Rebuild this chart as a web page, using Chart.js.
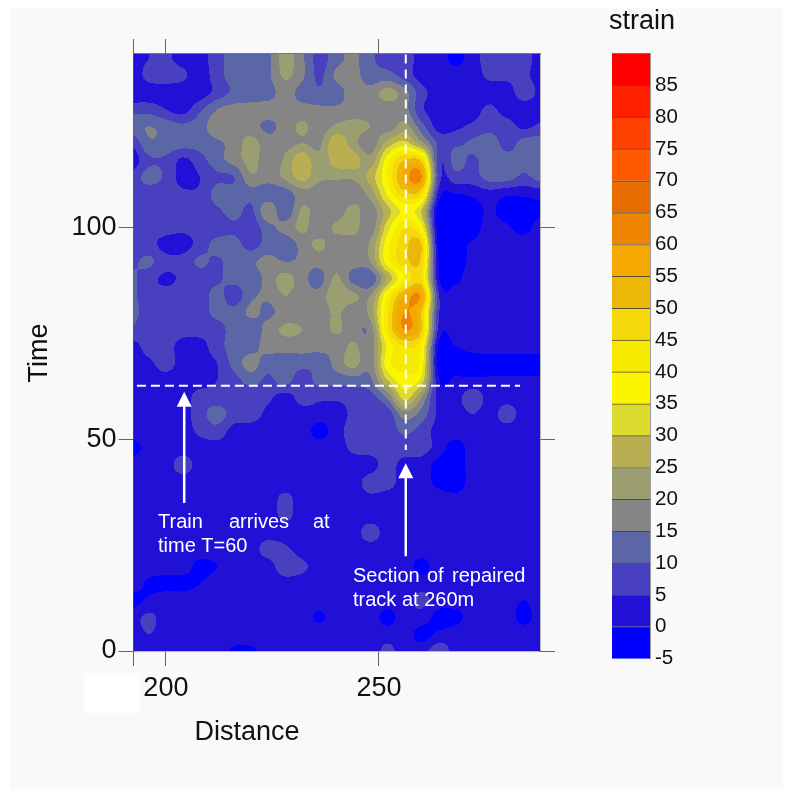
<!DOCTYPE html>
<html>
<head>
<meta charset="utf-8">
<style>
html,body{margin:0;padding:0;background:#fff;width:786px;height:789px;overflow:hidden}
#main{position:absolute;left:0;top:0}
#bar{position:absolute;left:612px;top:36px}
</style>
<script src="https://cdn.jsdelivr.net/npm/chart.js@4/dist/chart.umd.min.js"></script>
</head>
<body>
<canvas id="main" width="786" height="789"></canvas>
<canvas id="bar" width="100" height="640"></canvas>
<script>
// ---- data ----
const xTicks = [200, 250];
const yTicks = [0, 50, 100];
const gridX = [192,196,200,204,208,212,216,220,224,228,232,236,240,244,248,252,256,260,264,268,272,276,280,284,288];
const gridY = [140,136,132,128,124,120,116,112,108,104,100,96,92,88,84,80,76,72,68,64,60,56,52,48,44,40,36,32,28,24,20,16,12,8,4,0];
const strain = [
[2,5,6,3,3,8,12,12,14,22,16,8,13,16,11,8,8,3,3,-2,3,7,7,7,3],
[1,7,7,6,2,8,12,12,14,21,16,9,16,17,12,12,8,3,3,3,3,6,6,6,3],
[1,2,3,2,2,7,11,12,13,17,13,11,13,17,17,22,17,7,3,3,3,3,3,7,4],
[8,8,5,3,9,15,17,17,17,17,17,16,16,17,17,17,17,6,3,3,3,6,3,3,3],
[13,15,13,11,13,18,19,17,14,17,21,17,21,22,20,17,22,12,3,4,6,8,7,4,6],
[6,14,13,12,12,14,17,22,17,18,20,19,29,22,17,27,32,22,9,9,11,13,8,12,13],
[2,9,9,4,8,13,17,22,17,21,29,21,28,28,22,38,50,48,7,12,9,13,12,11,13],
[7,12,9,3,5,9,10,19,17,21,27,21,21,21,27,40,57,60,8,8,8,12,12,9,12],
[7,7,7,6,6,12,12,12,12,12,18,17,17,17,22,36,48,45,3,0,1,3,1,1,2],
[7,7,7,7,7,9,12,9,19,11,21,17,17,22,17,28,36,30,-3,-4,-3,1,-3,-3,-1],
[9,7,7,6,7,7,9,7,13,17,21,17,21,22,17,33,45,38,-3,-4,-3,3,1,-2,3],
[7,7,3,3,7,12,12,8,12,11,17,21,17,17,21,38,48,50,-2,-3,1,3,3,3,3],
[9,11,7,7,11,9,13,14,17,15,16,17,18,17,20,38,48,48,0,-3,2,3,3,3,3],
[11,7,4,6,7,9,12,12,17,22,17,13,21,13,11,26,40,45,1,-1,3,3,3,3,3],
[11,7,7,7,7,12,7,14,16,20,17,17,24,21,20,40,55,58,6,2,3,3,3,3,3],
[12,7,7,7,7,12,12,16,14,17,17,17,21,17,22,44,60,50,6,3,3,3,3,3,3],
[9,7,7,7,7,7,13,12,17,21,20,17,21,17,17,44,60,50,4,3,3,3,3,3,3],
[3,7,7,3,3,8,12,13,17,17,17,17,17,21,17,36,45,40,-1,0,2,3,3,3,3],
[3,4,7,3,3,5,12,17,12,12,12,11,17,22,17,38,42,38,-3,-3,-3,-3,-3,-3,-3],
[3,3,3,3,3,5,8,12,9,12,7,12,12,13,14,30,38,33,1,1,1,1,1,1,1],
[3,3,3,3,7,7,7,7,6,3,7,6,6,7,8,16,32,20,3,3,8,3,3,3,3],
[3,3,3,3,8,12,8,7,4,3,3,3,3,6,7,7,18,13,4,3,5,3,7,3,3],
[3,3,3,3,6,8,3,3,3,3,3,-2,3,7,7,7,11,8,3,3,3,3,3,3,3],
[-2,2,3,3,3,3,3,3,3,3,3,3,3,6,7,7,8,7,3,-3,3,3,3,3,3],
[3,3,3,7,3,3,3,3,3,3,3,3,3,3,3,7,3,3,-2,-4,3,3,3,3,3],
[3,3,3,3,3,3,3,3,3,3,3,3,3,3,7,7,3,3,-2,-4,3,3,3,3,3],
[3,3,3,3,3,3,3,3,3,6,3,3,3,3,4,3,3,3,3,2,3,3,3,3,3],
[3,3,3,3,3,3,3,3,3,6,3,3,3,3,3,3,3,3,3,3,3,3,3,3,3],
[3,3,3,3,3,3,3,3,3,3,3,3,3,3,7,3,3,3,3,3,3,3,3,3,3],
[3,3,3,3,3,3,3,3,7,6,3,3,3,3,3,3,3,3,3,3,3,3,3,3,3],
[3,3,3,3,-2,0,3,3,3,8,6,3,3,3,3,3,3,-2,3,3,3,3,3,3,3],
[3,-1,-2,-2,0,3,3,3,3,3,3,3,3,3,3,3,3,3,3,3,3,3,3,3,3],
[-2,1,3,3,3,3,3,3,3,3,3,3,3,3,3,3,3,6,3,3,3,3,3,0,3],
[3,6,3,3,3,3,3,3,3,3,3,-1,3,3,3,-2,3,3,-2,-2,3,3,3,-2,3],
[3,5,3,3,3,3,3,3,3,3,3,3,3,3,3,3,3,-2,1,3,3,3,3,3,3],
[3,3,3,3,3,3,-1,-1,3,3,3,3,3,3,3,6,3,3,8,3,3,3,3,3,3]
];
const bandLows = [-5,0,5,10,15,20,25,30,35,40,45,50,55,60,65,70,75,80,85];
const bandColors = ['#0000ff','#2111d6','#4840be','#5a66a6','#858585','#9a9e70','#b8ae52','#dcdc30','#fbf500','#f5ea00','#f5d80a','#ecb808','#f5a800','#ee8400','#e86c00','#ff5a00','#ff4000','#ff2000','#ff0000'];
const trainLine = [{x:193.2,y:62.7},{x:283.1,y:62.7}];
const repairLine = [{x:256.3,y:141},{x:256.3,y:47.5}];
const arrows = [{x:204.3,from:35,to:61.3},{x:256.3,from:22.4,to:44.4}];
const notes = [
 {t:'Train',x:158,y:528},{t:'arrives',x:229,y:528},{t:'at',x:313,y:528},
 {t:'time T=60',x:158,y:552},
 {t:'Section',x:353,y:582},{t:'of',x:427,y:582},{t:'repaired',x:452,y:582},
 {t:'track at 260m',x:353,y:606}
];
const FONT = '"Liberation Sans", Arial, sans-serif';

function hexRgb(h){return [parseInt(h.slice(1,3),16),parseInt(h.slice(3,5),16),parseInt(h.slice(5,7),16)];}
const bandRgb = bandColors.map(hexRgb);

function cr(p0,p1,p2,p3,t){
  return 0.5*((2*p1)+(-p0+p2)*t+(2*p0-5*p1+4*p2-p3)*t*t+(-p0+3*p1-3*p2+p3)*t*t*t);
}
function cell(j,i){
  j=Math.max(0,Math.min(gridY.length-1,j)); i=Math.max(0,Math.min(gridX.length-1,i));
  return strain[j][i];
}
function sample(xv,yv){
  const stepX = gridX[1]-gridX[0], stepY = gridY[0]-gridY[1];
  let fx = (xv-gridX[0])/stepX, fy = (gridY[0]-yv)/stepY;
  fx = Math.max(0,Math.min(gridX.length-1.001,fx));
  fy = Math.max(0,Math.min(gridY.length-1.001,fy));
  const i=Math.floor(fx), j=Math.floor(fy), a=fx-i, b=fy-j;
  const r=[-1,0,1,2].map(d=>cr(cell(j+d,i-1),cell(j+d,i),cell(j+d,i+1),cell(j+d,i+2),a));
  return cr(r[0],r[1],r[2],r[3],b);
}

const contourPlugin = {
  id:'contour',
  beforeDatasetsDraw(chart){
    const {ctx,chartArea:ca,scales:{x,y}} = chart;
    const L=Math.floor(ca.left), T=Math.floor(ca.top), W=Math.ceil(ca.right)-L, H=Math.ceil(ca.bottom)-T;
    const off=document.createElement('canvas'); off.width=W; off.height=H;
    const oc=off.getContext('2d'); const img=oc.createImageData(W,H);
    for(let py=0;py<H;py++){
      const yv=y.getValueForPixel(T+py+0.5);
      for(let px=0;px<W;px++){
        const xv=x.getValueForPixel(L+px+0.5);
        const v=sample(xv,yv);
        let k=Math.floor((v+5)/5); k=Math.max(0,Math.min(bandRgb.length-1,k));
        const c=bandRgb[k], o=(py*W+px)*4;
        img.data[o]=c[0];img.data[o+1]=c[1];img.data[o+2]=c[2];img.data[o+3]=255;
      }
    }
    oc.putImageData(img,0,0);
    ctx.save();
    ctx.beginPath();ctx.rect(ca.left,ca.top,ca.width,ca.height);ctx.clip();
    ctx.fillStyle='#2111d6';ctx.fillRect(ca.left,ca.top,ca.width,ca.height);
    ctx.filter='blur(0.7px)';
    ctx.drawImage(off,L,T);
    ctx.filter='none';
    ctx.restore();
  },
  afterDatasetsDraw(chart){
    const {ctx,scales:{x,y}} = chart;
    ctx.save();
    ctx.strokeStyle='#fff';ctx.fillStyle='#fff';
    arrows.forEach(a=>{
      const px=x.getPixelForValue(a.x), p0=y.getPixelForValue(a.from), p1=y.getPixelForValue(a.to);
      ctx.lineWidth=2.5;
      ctx.beginPath();ctx.moveTo(px,p0);ctx.lineTo(px,p1+10);ctx.stroke();
      ctx.beginPath();ctx.moveTo(px,p1);ctx.lineTo(px-7.5,p1+15);ctx.lineTo(px+7.5,p1+15);ctx.closePath();ctx.fill();
    });
    ctx.font='20px '+FONT;ctx.textAlign='left';ctx.textBaseline='alphabetic';
    notes.forEach(n=>ctx.fillText(n.t,n.x,n.y));
    ctx.fillStyle='#111';
    ctx.font='27px '+FONT;ctx.textAlign='center';
    ctx.fillText('Distance',247,740);
    ctx.fillText('strain',642,29);
    ctx.translate(47,353);ctx.rotate(-Math.PI/2);
    ctx.fillText('Time',0,0);
    ctx.restore();
  },
  beforeDraw(chart){
    const ctx=chart.ctx;
    ctx.save();
    ctx.fillStyle='#f9f9f9';ctx.fillRect(10,8,773,781);
    ctx.fillStyle='#ffffff';ctx.fillRect(84,673,56,40);
    ctx.restore();
  }
};

const axisGrid={drawOnChartArea:false,color:'#666',tickLength:15,lineWidth:1};
const axisBorder={color:'#777',width:1.5};
function withEdge(list,edge){return function(s){s.ticks=[edge].concat(list).map(v=>({value:v}));};}
function xAxis(pos,size,show){
  return {type:'linear',position:pos,min:192.4,max:287.8,
    grid:axisGrid,border:axisBorder,
    afterBuildTicks:withEdge(xTicks,192.4),
    afterFit(s){s.height=size;},
    ticks:{display:show,color:'#111',font:{size:27,family:FONT},padding:6,maxRotation:0,autoSkip:false,
      callback(v){return xTicks.includes(v)?String(v):'';}}};
}
function yAxis(pos,size,show){
  return {type:'linear',position:pos,min:0,max:141.1,
    grid:axisGrid,border:axisBorder,
    afterBuildTicks(s){s.ticks=yTicks.map(v=>({value:v}));},
    afterFit(s){s.width=size;},
    ticks:{display:show,color:'#111',font:{size:27,family:FONT},padding:2,autoSkip:false,
      callback(v){return String(v);}}};
}

new Chart(document.getElementById('main'),{
  type:'scatter',
  data:{datasets:[
    {label:'strain grid',xAxisID:'x',yAxisID:'y',pointRadius:0,
     data:gridY.flatMap((yv,j)=>gridX.map((xv,i)=>({x:xv,y:yv,v:strain[j][i]})))},
    {label:'train arrival',xAxisID:'x',yAxisID:'y',showLine:true,pointRadius:0,borderColor:'#fff',borderWidth:2,borderDash:[9,5],data:trainLine},
    {label:'repaired section',xAxisID:'x',yAxisID:'y',showLine:true,pointRadius:0,borderColor:'#fff',borderWidth:2,borderDash:[9,6],data:repairLine}
  ]},
  options:{
    responsive:false,animation:false,
    layout:{padding:0},
    plugins:{legend:{display:false},tooltip:{enabled:false}},
    scales:{
      x:xAxis('bottom',138,true),
      xTop:xAxis('top',54,false),
      y:yAxis('left',133.5,true),
      yRight:yAxis('right',246,false)
    }
  },
  plugins:[contourPlugin]
});

new Chart(document.getElementById('bar'),{
  type:'bar',
  data:{labels:['strain'],datasets:bandLows.map((lo,i)=>({
    label:String(lo),data:[[lo,lo+5]],backgroundColor:bandColors[i],
    borderColor:'#5a4a30',borderWidth:{top:1,bottom:0,left:0,right:0},borderSkipped:false,
    barPercentage:1,categoryPercentage:1,grouped:false}))},
  options:{
    responsive:false,animation:false,
    layout:{padding:{top:10,bottom:10}},
    plugins:{legend:{display:false},tooltip:{enabled:false}},
    scales:{
      x:{display:false,grid:{display:false}},
      y:{position:'right',min:-5,max:90,
        grid:{display:false,tickLength:0},border:{color:'#999',width:1},
        afterFit(s){s.width=62;},
        ticks:{stepSize:5,autoSkip:false,color:'#111',padding:5,font:{size:20.5,family:FONT},
          callback(v){return v===90?'':String(v);}}}
    }
  }
});
</script>
</body>
</html>
